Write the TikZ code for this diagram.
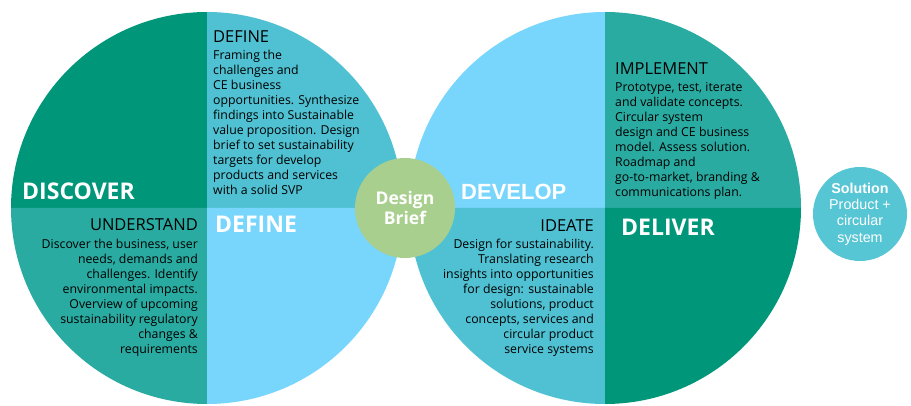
\documentclass[tikz,border=0pt]{standalone}
\usepackage{fontspec}
\setmainfont{Open Sans}
\newfontfamily\arialfont{Liberation Sans}
\usetikzlibrary{positioning}
\definecolor{dkgreen}{HTML}{009679}
\definecolor{teal}{HTML}{2AABA1}
\definecolor{cyan}{HTML}{4FC1D2}
\definecolor{ltblue}{HTML}{78D5FB}
\definecolor{briefgreen}{HTML}{A8CF8D}
\definecolor{solcyan}{HTML}{56C5D4}
\begin{document}
\begin{tikzpicture}[x=1pt,y=1pt]
\tikzstyle{every node}+=[inner sep=0pt]
\tikzstyle{phase}=[font=\fontsize{23}{23}\selectfont\bfseries, text=white]
\tikzstyle{head}=[font=\fontsize{16.5}{16.5}\selectfont, text=black]
\tikzstyle{body}=[font=\fontsize{12.3}{15}\selectfont, text=black]
\useasboundingbox (0,0) rectangle (911,405);
% left circle
\fill [dkgreen] (207,197) -- (207,393) arc [start angle=90, end angle=180, radius=196] -- cycle;
\fill [cyan] (207,197) -- (403,197) arc [start angle=0, end angle=90, radius=196] -- cycle;
\fill [teal] (207,197) -- (11,197) arc [start angle=180, end angle=270, radius=196] -- cycle;
\fill [ltblue] (207,197) -- (207,1) arc [start angle=270, end angle=360, radius=196] -- cycle;
% right circle
\fill [ltblue] (605,197) -- (605,393) arc [start angle=90, end angle=180, radius=196] -- cycle;
\fill [teal] (605,197) -- (801,197) arc [start angle=0, end angle=90, radius=196] -- cycle;
\fill [cyan] (605,197) -- (409,197) arc [start angle=180, end angle=270, radius=196] -- cycle;
\fill [dkgreen] (605,197) -- (605,1) arc [start angle=270, end angle=360, radius=196] -- cycle;
% discover
\node [phase, anchor=base west] (discover) at (22,205) {DISCOVER};
\node [head, anchor=base west] (defhead) at (213,362) {DEFINE};
\node [body, anchor=base west, align=left] (defbody) at (213,210) {Framing the\\challenges and\\CE business\\opportunities. Synthesize\\findings into Sustainable\\value proposition. Design\\brief to set sustainability\\targets for develop\\products and services\\with a solid SVP};
\node [head, anchor=base east] (undhead) at (198,175) {UNDERSTAND};
\node [body, anchor=base east, align=right] (undbody) at (198,52) {Discover the business, user\\needs, demands and\\challenges. Identify\\environmental impacts.\\Overview of upcoming\\sustainability regulatory\\changes \&\\requirements};
\node [phase, anchor=base west] (define) at (215,172) {DEFINE};
% develop
\node [phase, font=\arialfont\fontsize{22}{22}\selectfont\bfseries, anchor=base west] (develop) at (461,205) {DEVELOP};
\node [head, anchor=base west] (imphead) at (615,330) {IMPLEMENT};
\node [body, anchor=base west, align=left] (impbody) at (615,208) {Prototype, test, iterate\\and validate concepts.\\Circular system\\design and CE business\\model. Assess solution.\\Roadmap and\\go-to-market, branding \&\\communications plan.};
\node [head, anchor=base east] (idehead) at (594,173) {IDEATE};
\node [body, anchor=base east, align=right] (idebody) at (594,52) {Design for sustainability.\\Translating research\\insights into opportunities\\for design: sustainable\\solutions, product\\concepts, services and\\circular product\\service systems};
\node [phase, anchor=base west] (deliver) at (621,170) {DELIVER};
% brief and solution
\node [circle, fill=briefgreen, minimum size=100pt, text=white, align=center, font=\fontsize{17.5}{19.5}\selectfont\bfseries] (brief) at (405,197) {Design\\Brief};
\node [circle, fill=solcyan, minimum size=94pt, text=white, align=center, font=\arialfont\fontsize{14.3}{16.3}\selectfont] (solution) at (860,191) {\textbf{Solution}\\Product +\\circular\\system};
\end{tikzpicture}
\end{document}
